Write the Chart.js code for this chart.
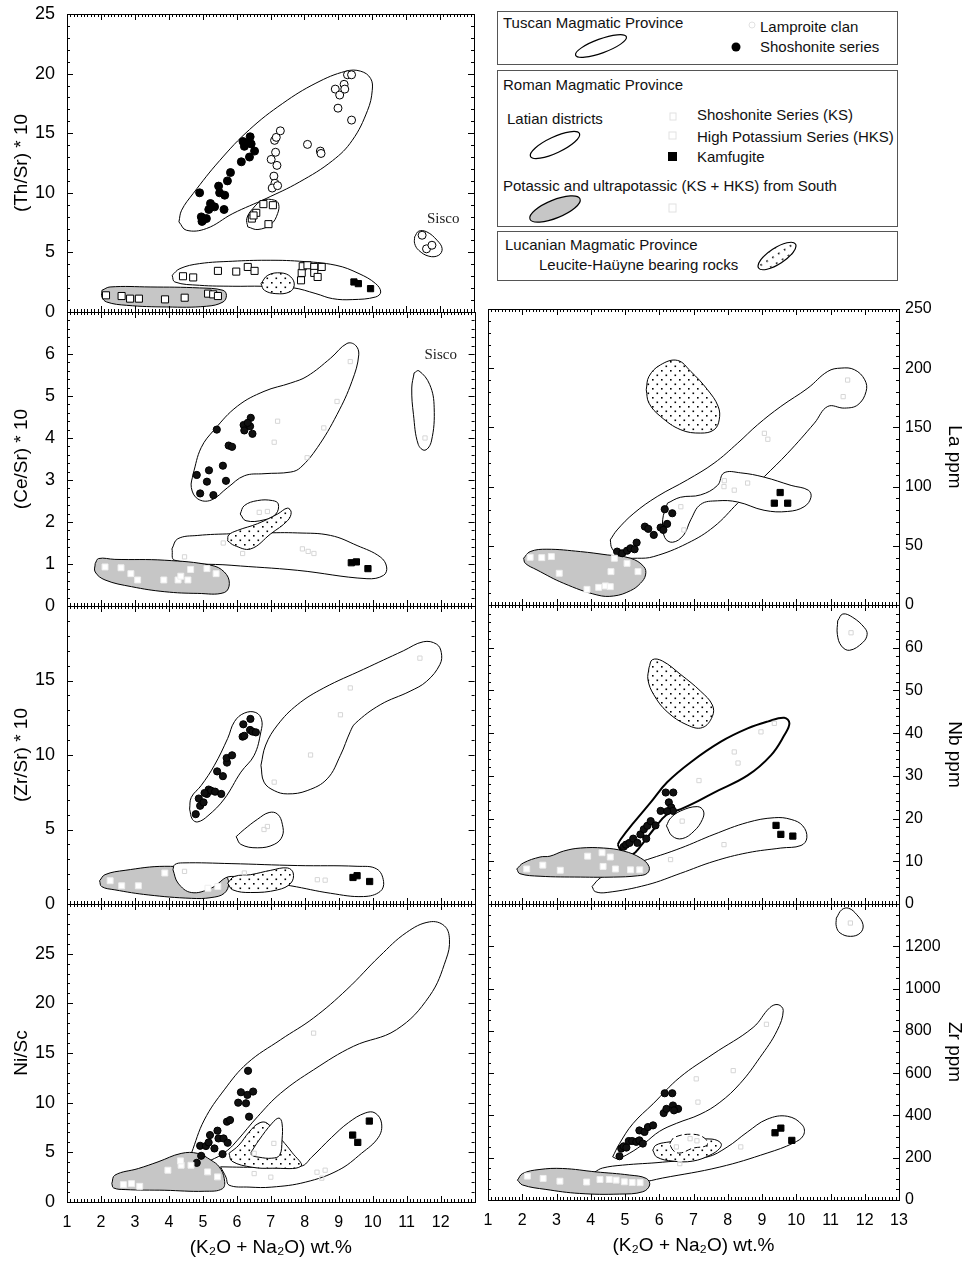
<!DOCTYPE html>
<html>
<head>
<meta charset="utf-8">
<script src="https://cdn.jsdelivr.net/npm/chart.js@4.4.1/dist/chart.umd.min.js"></script>
<style>
  html, body { margin: 0; padding: 0; background: #fff; }
  #stage { position: relative; width: 971px; height: 1264px; overflow: hidden; background: #fff;
           font-family: 'Liberation Sans', Arial, sans-serif; color: #111; }
  #stage canvas { position: absolute; }
  .box { position: absolute; left: 497px; width: 401px; border: 1px solid #555; box-sizing: border-box; }
  .lt { position: absolute; font-size: 15px; line-height: 18px; white-space: nowrap; }
  #legendArt { position: absolute; left: 0; top: 0; }
</style>
</head>
<body>
<div id="stage">
  <div class="box" style="top:11px;height:54px"></div>
  <div class="box" style="top:70px;height:157px"></div>
  <div class="box" style="top:231px;height:50px"></div>

  <div class="lt" style="left:503px;top:14px">Tuscan Magmatic Province</div>
  <div class="lt" style="left:760px;top:18px">Lamproite clan</div>
  <div class="lt" style="left:760px;top:38px">Shoshonite series</div>
  <div class="lt" style="left:503px;top:76px">Roman Magmatic Province</div>
  <div class="lt" style="left:507px;top:110px">Latian districts</div>
  <div class="lt" style="left:697px;top:106px">Shoshonite Series (KS)</div>
  <div class="lt" style="left:697px;top:128px">High Potassium Series (HKS)</div>
  <div class="lt" style="left:697px;top:148px">Kamfugite</div>
  <div class="lt" style="left:503px;top:177px">Potassic and ultrapotassic (KS + HKS) from South</div>
  <div class="lt" style="left:505px;top:236px">Lucanian Magmatic Province</div>
  <div class="lt" style="left:539px;top:256px">Leucite-Haüyne bearing rocks</div>

  <svg id="legendArt" width="971" height="300">
    <defs>
      <pattern id="dots" width="7" height="7" patternUnits="userSpaceOnUse">
        <rect x="2" y="2" width="1.6" height="1.6" fill="#000"/>
      </pattern>
    </defs>
    <ellipse cx="601" cy="46" rx="27" ry="7" transform="rotate(-20 601 46)" fill="none" stroke="#000" stroke-width="1.2"/>
    <circle cx="752" cy="25" r="3" fill="none" stroke="#e2e2e2"/>
    <circle cx="736" cy="47" r="4.5" fill="#000"/>
    <ellipse cx="555" cy="145" rx="27" ry="8" transform="rotate(-25 555 145)" fill="none" stroke="#000" stroke-width="1.2"/>
    <rect x="670" y="113" width="6" height="7" fill="none" stroke="#e2e2e2"/>
    <rect x="669" y="132" width="7" height="7" fill="none" stroke="#e2e2e2"/>
    <rect x="668" y="152" width="9" height="9" fill="#000"/>
    <ellipse cx="555" cy="209" rx="27" ry="9" transform="rotate(-22 555 209)" fill="#c6c6c6" stroke="#000" stroke-width="1.2"/>
    <rect x="669" y="204" width="7" height="8" fill="none" stroke="#e2e2e2"/>
    <ellipse cx="777" cy="256" rx="22" ry="8" transform="rotate(-33 777 256)" fill="url(#dots)" stroke="#000" stroke-width="1.2"/>
  </svg>
</div>

<script>
/* ---------- Data: (K2O + Na2O) wt.% vs ratios / ppm ---------- */

/* (Th/Sr)*10 */
const thShos = [[4.91,10.0],[4.96,7.98],[5.01,7.7],[5.11,7.84],[5.23,9.1],[5.18,8.6],[5.35,8.82],[5.47,10.56],[5.50,10.0],[5.65,9.8],[5.63,8.6],[5.73,11.0],[5.82,11.7],[6.14,12.6],[6.19,14.3],[6.28,14.15],[6.38,13.0],[6.40,14.7],[6.43,14.1],[6.53,13.5],[6.23,13.9],[4.98,7.6]];
const thLamp = [[7.02,12.8],[7.15,13.4],[7.12,14.4],[7.17,14.65],[7.29,15.2],[7.19,12.3],[7.10,11.4],[7.13,10.8],[7.05,10.4],[7.21,10.6],[8.09,14.06],[8.47,13.5],[8.49,13.3],[8.91,18.7],[9.04,18.2],[9.17,19.1],[9.19,18.7],[9.27,19.9],[9.39,19.9],[8.99,17.1],[9.39,16.1],[11.47,6.44],[11.60,5.3],[11.76,5.6]];
const thKS = [[6.45,7.84],[6.58,8.32],[6.79,9.05],[7.07,8.96],[6.94,7.37],[6.50,8.1]];
const thHKS = [[4.42,3.0],[4.72,2.9],[5.45,3.45],[5.99,3.39],[6.33,3.78],[6.53,3.45],[7.90,2.66],[7.92,3.28],[7.95,3.84],[8.09,3.92],[8.29,3.78],[8.29,3.28],[8.39,2.94],[8.51,3.78]];
const thKam = [[9.46,2.52],[9.59,2.38],[9.95,1.96]];
const thSouth = [[2.15,1.4],[2.61,1.34],[2.86,1.12],[3.12,1.12],[3.89,1.06],[4.47,1.2],[5.16,1.54],[5.31,1.48],[5.45,1.34]];
const thTuscanField = [[4.30,7.56],[4.52,6.86],[5.11,7.0],[5.89,8.26],[6.87,9.52],[7.85,10.9],[8.83,12.7],[9.41,14.4],[9.86,16.9],[10.0,18.6],[9.95,19.6],[9.66,20.2],[9.22,20.2],[8.34,19.2],[7.36,17.5],[6.38,15.3],[5.50,12.7],[4.72,9.94],[4.38,8.54]];
const thKSField = [[6.33,7.14],[6.63,6.92],[7.02,7.37],[7.21,8.26],[7.24,9.05],[7.12,9.38],[6.77,9.38],[6.48,8.68],[6.30,7.84]];
const thLatianField = [[4.10,3.08],[4.18,2.52],[4.91,2.24],[5.89,2.16],[6.77,2.16],[7.65,2.04],[8.34,1.54],[8.83,1.12],[9.41,1.04],[10.1,1.26],[10.25,1.68],[10.1,2.38],[9.61,3.22],[8.93,3.92],[7.85,4.26],[6.87,4.34],[5.89,4.26],[4.91,4.06],[4.33,3.64]];
const thSouthField = [[2.03,1.82],[2.27,2.1],[3.45,2.1],[4.91,2.02],[5.60,1.82],[5.70,1.4],[5.60,0.84],[5.11,0.48],[3.94,0.42],[2.76,0.56],[2.17,0.84],[2.03,1.26]];
const thLucanField = [[6.72,2.38],[6.82,1.82],[7.16,1.54],[7.56,1.68],[7.70,2.24],[7.60,2.94],[7.31,3.28],[6.92,3.08]];
const thSiscoField = [[11.25,6.3],[11.37,6.78],[11.61,6.72],[11.91,6.02],[12.06,5.32],[11.96,4.76],[11.67,4.68],[11.37,5.18],[11.25,5.74]];

/* (Ce/Sr)*10 */
const ceShos = [[4.82,3.12],[4.92,2.68],[5.12,2.96],[5.18,3.23],[5.31,2.64],[5.41,4.20],[5.59,3.34],[5.68,2.98],[5.76,3.82],[5.86,3.79],[6.20,4.31],[6.22,4.18],[6.41,4.48],[6.39,4.28],[6.46,4.10],[6.32,4.36]];
const ceKam = [[9.37,1.03],[9.52,1.05],[9.86,0.89]];
const ceSouth = [[2.12,0.93],[2.59,0.91],[2.88,0.77],[3.08,0.62],[3.85,0.62],[4.27,0.62],[4.35,0.71],[4.56,0.62],[4.64,0.87],[5.12,0.89],[5.39,0.77]];
const ceFaint = [[7.2,4.4],[7.1,3.9],[8.56,4.24],[8.95,4.87],[9.34,5.82],[8.07,3.53],[4.46,1.17],[6.17,1.25],[7.93,1.36],[8.27,1.25],[6.66,2.23],[6.9,2.25],[11.54,4.0],[5.6,1.5],[8.1,1.3]];
const ceTuscanField = [[4.71,3.14],[4.66,2.82],[4.85,2.55],[5.24,2.52],[5.73,2.82],[6.22,3.10],[6.80,3.15],[7.59,3.19],[7.88,3.30],[8.37,3.77],[8.95,4.56],[9.39,5.35],[9.59,5.98],[9.49,6.21],[9.24,6.25],[8.76,5.90],[8.07,5.47],[7.59,5.31],[6.80,5.11],[6.02,4.76],[5.34,4.20],[4.95,3.77]];
const ceSiscoField = [[11.22,5.55],[11.36,5.6],[11.68,5.27],[11.81,4.72],[11.73,3.93],[11.54,3.71],[11.34,3.85],[11.20,4.56],[11.15,5.19]];
const ceKSField = [[6.10,2.19],[6.27,2.03],[6.80,2.05],[7.15,2.19],[7.22,2.43],[7.05,2.51],[6.61,2.51],[6.22,2.39]];
const ceLucanField = [[5.73,1.55],[5.93,1.44],[6.41,1.36],[7.0,1.72],[7.49,2.03],[7.60,2.23],[7.49,2.33],[7.20,2.19],[6.61,1.96],[6.02,1.80],[5.76,1.69]];
const ceLatianField = [[4.09,1.36],[4.17,1.09],[5.83,0.97],[7.78,0.85],[9.83,0.65],[10.32,0.73],[10.41,0.93],[10.22,1.17],[9.54,1.44],[8.76,1.68],[7.78,1.74],[6.80,1.74],[5.83,1.72],[4.85,1.68],[4.26,1.60]];
const ceSouthField = [[1.83,1.01],[1.93,1.13],[2.41,1.11],[3.88,1.09],[5.24,0.97],[5.63,0.81],[5.78,0.54],[5.63,0.32],[4.85,0.30],[3.88,0.34],[2.90,0.46],[2.12,0.62],[1.83,0.81]];

/* (Zr/Sr)*10 */
const zsShos = [[4.79,6.03],[4.88,7.08],[4.92,6.59],[5.02,6.82],[5.12,7.39],[5.17,7.68],[5.24,7.61],[5.36,7.54],[5.54,7.39],[5.42,8.90],[5.59,8.58],[5.71,9.49],[5.70,9.80],[5.86,9.98],[6.17,11.23],[6.22,11.29],[6.19,12.06],[6.40,12.42],[6.39,11.68],[6.46,11.57],[6.56,11.52],[5.05,7.45]];
const zsKam = [[9.42,1.78],[9.54,1.90],[9.91,1.51]];
const zsSouth = [[2.27,1.56],[2.61,1.22],[3.10,1.22],[3.88,2.08],[5.15,1.06],[5.44,1.17]];
const zsFaint = [[9.34,14.5],[11.39,16.5],[9.05,12.7],[8.17,10.0],[7.10,8.18],[6.80,5.0],[6.9,5.2],[4.46,2.19],[6.22,2.08],[8.37,1.63],[8.6,1.6]];
const zsShosField = [[4.61,6.37],[4.69,5.69],[4.85,5.51],[5.15,5.92],[5.63,7.05],[6.12,8.85],[6.51,9.98],[6.71,11.57],[6.73,12.36],[6.56,12.85],[6.22,12.81],[5.93,12.24],[5.73,11.11],[5.34,9.31],[4.95,7.95],[4.66,7.16]];
const zsTuscanField = [[6.71,9.31],[6.80,8.18],[7.10,7.61],[7.49,7.39],[8.07,7.61],[8.66,8.40],[9.05,9.98],[9.34,11.57],[9.49,12.13],[10.22,13.37],[11.10,14.28],[11.59,14.95],[11.98,16.08],[12.02,16.87],[11.88,17.44],[11.49,17.60],[10.90,16.99],[9.73,15.75],[8.56,14.50],[7.78,13.37],[7.20,12.02],[6.85,10.67]];
const zsKSField = [[5.98,4.52],[6.12,4.0],[6.61,3.77],[7.10,4.0],[7.34,4.56],[7.34,5.35],[7.20,6.03],[6.95,6.14],[6.61,5.69],[6.22,5.01]];
const zsSouthField = [[1.96,1.56],[2.12,1.97],[2.71,2.26],[3.88,2.53],[5.05,2.30],[5.63,1.97],[5.76,1.40],[5.63,0.72],[5.24,0.43],[4.66,0.38],[3.39,0.61],[2.41,0.95],[2.02,1.17]];
const zsLatianField = [[4.12,2.30],[4.27,1.40],[4.66,0.77],[5.24,1.06],[5.83,1.85],[7.59,1.22],[8.76,0.72],[9.73,0.50],[10.22,0.84],[10.32,1.51],[10.12,2.35],[9.54,2.53],[7.78,2.58],[5.83,2.71],[4.41,2.76],[4.17,2.64]];
const zsLucanField = [[5.73,1.40],[5.88,0.95],[6.41,0.77],[7.20,0.95],[7.59,1.40],[7.66,2.08],[7.49,2.42],[7.00,2.26],[6.41,1.97],[5.93,1.85]];

/* Ni/Sc */
const niShos = [[4.82,3.94],[4.95,4.65],[4.92,5.66],[5.09,5.63],[5.17,6.0],[5.21,6.74],[5.34,5.39],[5.43,7.18],[5.46,6.40],[5.61,6.40],[5.73,5.96],[5.58,4.82],[5.71,8.09],[5.80,8.25],[6.04,10.0],[6.12,11.05],[6.27,9.94],[6.31,10.78],[6.33,13.21],[6.36,8.59],[6.48,11.12]];
const niKam = [[9.41,6.74],[9.56,6.0],[9.90,8.15]];
const niSouth = [[2.66,1.75],[2.90,1.85],[3.14,1.58],[3.97,3.2],[4.36,3.7],[4.65,3.7],[5.14,3.03],[5.43,2.53],[4.34,4.14]];
const niFaint = [[8.26,17.0],[6.51,4.9],[7.09,5.9],[8.36,3.0],[8.6,3.2],[6.51,2.86],[7.0,2.5],[8.5,2.4]];
const niTuscanField = [[4.66,4.89],[5.04,8.25],[5.63,11.29],[6.31,13.98],[7.29,16.34],[8.26,18.53],[9.24,21.40],[10.21,24.76],[10.99,27.12],[11.67,28.20],[12.11,27.80],[12.26,26.45],[12.16,24.43],[11.67,20.72],[10.70,17.35],[9.43,15.67],[8.26,13.31],[7.29,10.95],[6.61,8.59],[6.02,6.23],[5.73,5.22],[5.34,4.38],[4.85,3.87]];
const niSouthField = [[2.32,1.85],[2.41,2.70],[3.10,3.37],[3.68,4.04],[4.36,4.89],[4.85,4.89],[5.24,4.21],[5.48,3.54],[5.63,2.36],[5.58,1.35],[5.04,1.08],[3.88,1.18],[2.71,1.25],[2.37,1.42]];
const niLatianField = [[5.52,3.54],[6.45,3.5],[7.89,3.61],[8.2,4.5],[8.79,6.5],[9.29,8.0],[9.78,8.96],[10.07,8.96],[10.26,7.94],[10.17,6.52],[9.67,4.9],[8.99,3.2],[8.02,2.0],[7.03,1.5],[6.36,1.5],[5.77,1.7],[5.68,2.5]];
const niLucanField = [[5.77,4.9],[6.06,5.72],[6.36,7.03],[6.65,7.94],[6.89,7.94],[7.33,6.22],[7.62,5.01],[7.89,3.61],[7.04,3.4],[6.45,3.5],[5.86,4.1]];
const niKSField = [[6.42,5.01],[6.65,6.22],[7.04,7.94],[7.24,8.45],[7.33,7.94],[7.33,6.22],[7.26,4.71],[7.03,4.41],[6.65,4.51],[6.44,4.71]];

/* La ppm */
const laShos = [[4.77,45.1],[4.92,43.7],[5.06,45.9],[5.16,47.9],[5.28,47.1],[5.34,52.7],[5.58,66.2],[5.68,64.3],[5.84,59.2],[6.04,65.4],[6.23,68.5],[6.16,80.9],[6.38,77.5],[6.12,63.4]];
const laKam = [[9.53,95.0],[9.36,86.0],[9.75,86.0]];
const laSouth = [[2.23,40.3],[2.57,40.0],[2.85,40.9],[3.08,26.8],[3.89,13.2],[4.23,14.9],[4.43,16.1],[4.57,15.5],[4.59,28.2],[4.69,39.5],[5.06,35.2],[5.38,28.2]];
const laFaint = [[11.5,190],[11.37,176],[9.07,145],[9.17,140],[7.89,100],[8.19,97],[8.58,103],[6.63,83],[6.72,63.4],[7.9,105]];
const laLucanField = [[5.62,181.8],[5.70,193.1],[6.04,202.9],[6.53,206.6],[6.92,197.3],[7.41,181.8],[7.72,167.7],[7.75,156.4],[7.60,148.0],[7.21,145.2],[6.63,148.0],[6.04,159.2],[5.70,170.5]];
const laTuscanField = [[4.57,55.0],[4.77,63.4],[5.26,77.5],[5.94,91.6],[6.82,105.7],[7.60,119.8],[8.29,136.7],[8.87,152.2],[9.55,167.7],[10.34,183.2],[10.92,197.3],[11.31,200.1],[11.70,198.7],[12.00,190.2],[12.04,180.4],[11.80,169.1],[11.41,166.3],[10.92,167.7],[10.53,153.6],[9.75,128.2],[9.07,108.5],[8.29,86.0],[7.60,66.2],[6.82,52.1],[5.84,40.9],[5.36,39.5],[4.87,40.9],[4.62,47.9]];
const laLatianField = [[6.24,86],[6.62,91],[7.21,93],[7.70,101],[7.89,111.6],[8.38,111.6],[9.06,108],[9.85,101],[10.35,97],[10.43,91],[10.23,83],[9.75,79],[9.06,80],[8.29,87],[7.70,88],[7.21,85],[6.92,72],[6.71,59],[6.39,53],[6.16,57],[6.10,72]];
const laSouthField = [[2.04,39.5],[2.23,45.1],[2.72,47.1],[3.70,45.1],[4.48,42.3],[5.16,39.5],[5.55,32.4],[5.60,25.4],[5.45,18.3],[5.16,12.1],[4.67,7.6],[4.18,8.5],[3.21,18.3],[2.43,29.6],[2.09,35.2]];

/* Nb ppm */
const nbShos = [[4.96,13.4],[5.03,13.9],[5.13,14.3],[5.24,15.3],[5.36,14.3],[5.62,15.3],[5.45,16.3],[5.55,17.5],[5.65,18.3],[5.75,19.4],[5.89,18.4],[6.04,21.8],[6.19,26.1],[6.41,26.1],[6.28,23.8],[6.35,22.6],[6.40,21.8],[6.23,21.7]];
const nbKam = [[9.41,18.4],[9.55,16.3],[9.90,15.9]];
const nbSouth = [[2.13,8.2],[2.60,9.1],[3.11,7.9],[3.91,11.2],[4.33,12.0],[4.57,11.0],[4.36,8.8],[4.72,8.2],[5.16,8.0],[5.43,8.0]];
const nbFaint = [[9.36,42.3],[8.97,40.3],[8.19,35.6],[7.16,28.9],[6.67,19.4],[7.89,13.9],[6.33,10.4],[11.6,63.5],[8.3,33]];
const nbLucanField = [[5.70,55.3],[5.80,57.2],[6.09,56.9],[6.63,53.7],[7.21,49.8],[7.55,46.6],[7.55,43.9],[7.26,41.3],[6.82,41.9],[6.23,45.0],[5.84,49.0],[5.67,52.5]];
const nbShosField = [[4.79,13.9],[4.92,12.0],[5.21,11.6],[5.45,13.5],[5.84,17.5],[6.23,21.0],[6.63,22.2],[7.01,23.6],[7.60,26.1],[8.58,30.1],[9.26,34.8],[9.65,39.5],[9.80,42.3],[9.65,43.6],[9.16,42.7],[8.58,41.1],[7.80,38.0],[6.92,33.2],[6.23,28.5],[5.75,23.8],[5.26,19.1],[4.87,15.1]];
const nbKSField = [[6.21,18.3],[6.38,15.9],[6.67,15.3],[7.02,17.1],[7.26,19.8],[7.29,21.8],[7.11,22.8],[6.63,21.8],[6.33,20.1]];
const nbLatianField = [[4.04,4.1],[4.13,2.9],[4.48,2.7],[5.65,4.5],[6.63,7.2],[7.60,10.0],[8.58,12.0],[9.55,13.1],[10.14,13.7],[10.31,15.5],[10.19,18.3],[9.85,19.8],[9.36,20.2],[8.58,19.1],[7.60,16.3],[6.63,13.1],[5.65,10.4],[4.87,8.4],[4.28,6.1]];
const nbSouthField = [[1.84,8.2],[2.03,9.6],[2.52,11.0],[2.81,11.2],[3.21,12.4],[3.70,13.1],[4.38,13.1],[4.96,12.4],[5.45,10.8],[5.70,8.8],[5.65,7.2],[5.36,6.6],[4.67,6.3],[3.70,6.3],[2.52,6.5],[1.93,7.1]];
const nbSiscoField = [[11.21,66.3],[11.36,67.9],[11.65,67.1],[11.99,64.7],[12.07,63.1],[11.94,61.2],[11.56,59.4],[11.32,60.4],[11.20,63.1]];

/* Zr ppm */
const zrShos = [[4.84,207],[4.89,243],[4.96,254],[5.04,248],[5.11,279],[5.21,279],[5.33,275],[5.42,282],[5.52,267],[5.42,329],[5.57,322],[5.67,345],[5.82,353],[6.13,411],[6.21,431],[6.40,447],[6.55,431],[6.16,505],[6.38,505],[6.43,424]];
const zrKam = [[9.38,318],[9.55,340],[9.87,282]];
const zrSouth = [[2.15,113],[2.61,102],[3.10,89],[3.88,85],[4.27,97],[4.54,97],[4.74,94],[4.98,86],[5.21,83],[5.44,82]];
const zrFaint = [[9.13,831],[8.16,612],[7.08,573],[7.13,463],[8.38,251],[6.5,251],[11.58,1310],[6.6,172],[6.9,290],[7.1,280]];
const zrTuscanField = [[4.64,204],[4.78,196],[5.14,222],[5.57,269],[6.01,325],[6.51,363],[7.19,405],[7.77,462],[8.36,551],[8.94,674],[9.44,801],[9.62,896],[9.47,924],[9.23,910],[8.74,816],[7.57,690],[6.60,580],[5.82,455],[5.23,361],[4.84,267]];
const zrLatianField = [[4.11,132],[4.34,151],[4.93,165],[6.10,179],[7.39,203],[7.98,250],[8.57,321],[9.15,382],[9.74,396],[10.18,354],[10.21,306],[9.91,269],[9.15,222],[7.77,156],[6.10,104],[5.43,85],[4.6,95],[4.2,115]];
const zrLucanField = [[5.81,236],[5.93,203],[6.40,184],[6.98,184],[7.48,212],[7.77,245],[7.80,269],[7.54,288],[6.89,283],[6.22,273],[5.90,259]];
const zrKSField = [[6.31,269],[6.45,297],[6.98,311],[7.33,292],[7.39,259],[6.98,245],[6.60,222],[6.40,236]];
const zrSouthField = [[1.86,94],[2.01,125],[2.49,144],[3.18,149],[4.15,133],[5.13,118],[5.62,102],[5.72,71],[5.52,39],[4.84,28],[3.67,31],[2.69,50],[2.01,71]];
const zrSiscoField = [[11.17,1333],[11.33,1373],[11.53,1380],[11.77,1349],[11.95,1302],[11.87,1263],[11.58,1247],[11.28,1263],[11.17,1294]];

/* ---------- Styles ---------- */
const FONT = "'Liberation Sans', Arial, sans-serif";
const GRAY = '#c6c6c6';

const dotPattern = (() => {
  const c = document.createElement('canvas');
  c.width = 9; c.height = 9;
  const g = c.getContext('2d');
  g.fillStyle = '#fff'; g.fillRect(0, 0, 9, 9);
  g.fillStyle = '#000';
  g.fillRect(1, 1, 1.6, 1.6);
  g.fillRect(5.5, 5.5, 1.6, 1.6);
  return g.createPattern(c, 'repeat');
})();
const FILLS = { white: '#ffffff', gray: GRAY, dots: dotPattern };

const MARKS = {
  shosBig:  [{ pointStyle: 'circle', pointRadius: 4, pointBackgroundColor: '#000', pointBorderColor: '#000' }],
  lamp:     [{ pointStyle: 'circle', pointRadius: 4, pointBackgroundColor: '#fff', pointBorderColor: '#000' }],
  hks:      [{ pointStyle: 'rect', pointRadius: 5, pointBackgroundColor: '#fff', pointBorderColor: '#000' }],
  ks:       [{ pointStyle: 'rect', pointRadius: 5, pointBackgroundColor: '#fff', pointBorderColor: '#000' },
             { pointStyle: 'cross', pointRadius: 3.4, pointBorderColor: '#000' }],
  southX:   [{ pointStyle: 'rect', pointRadius: 5, pointBackgroundColor: '#fff', pointBorderColor: '#000' },
             { pointStyle: 'crossRot', pointRadius: 3.4, pointBorderColor: '#000' }],
  kam:      [{ pointStyle: 'rect', pointRadius: 4.4, pointBackgroundColor: '#000', pointBorderColor: '#000' }],
  shos:     [{ pointStyle: 'circle', pointRadius: 3.6, pointBackgroundColor: '#111', pointBorderColor: '#000' }],
  south:    [{ pointStyle: 'rect', pointRadius: 4.2, pointBackgroundColor: '#fff', pointBorderColor: '#eeeeee' }],
  faint:    [{ pointStyle: 'rect', pointRadius: 3, pointBackgroundColor: 'rgba(0,0,0,0)', pointBorderColor: '#d6d6d6' }],
};

const xy = arr => arr.map(([x, y]) => ({ x, y }));

function fieldSet(f, order) {
  const pts = f.data.concat([f.data[0]]);
  return {
    type: 'line',
    data: xy(pts),
    borderColor: '#000',
    borderWidth: f.width || 1,
    borderDash: f.dash || [],
    backgroundColor: f.fill ? FILLS[f.fill] : 'rgba(0,0,0,0)',
    fill: f.fill ? 'shape' : false,
    tension: 0.4,
    pointRadius: 0,
    order,
  };
}

function markSets(p) {
  return MARKS[p.mark].map(m => Object.assign({
    type: 'scatter', data: xy(p.data), pointBorderWidth: 1, order: 0,
  }, m));
}

/* frame with inward major + minor ticks on all four sides */
const frameTicks = {
  id: 'frameTicks',
  afterDatasetsDraw(chart, args, o) {
    const { ctx, chartArea: a, scales: { x, y } } = chart;
    ctx.save();
    ctx.strokeStyle = '#000';
    ctx.lineWidth = 1;
    ctx.strokeRect(Math.round(a.left) + 0.5, Math.round(a.top) + 0.5,
                   Math.round(a.right - a.left), Math.round(a.bottom - a.top));
    ctx.beginPath();
    const nx = Math.round((x.max - x.min) / o.xMinor);
    for (let i = 0; i <= nx; i++) {
      const v = x.min + i * o.xMinor;
      const len = Math.abs(v / o.xMajor - Math.round(v / o.xMajor)) < 1e-6 ? 6 : 3;
      const px = Math.round(x.getPixelForValue(v)) + 0.5;
      ctx.moveTo(px, a.top); ctx.lineTo(px, a.top + len);
      ctx.moveTo(px, a.bottom); ctx.lineTo(px, a.bottom - len);
    }
    const ny = Math.round((y.max - y.min) / o.yMinor);
    for (let i = 0; i <= ny; i++) {
      const v = y.min + i * o.yMinor;
      const len = Math.abs(v / o.yMajor - Math.round(v / o.yMajor)) < 1e-6 ? 6 : 3;
      const py = Math.round(y.getPixelForValue(v)) + 0.5;
      ctx.moveTo(a.left, py); ctx.lineTo(a.left + len, py);
      ctx.moveTo(a.right, py); ctx.lineTo(a.right - len, py);
    }
    ctx.stroke();
    ctx.restore();
  }
};

/* small text notes placed in data space */
const notes = {
  id: 'notes',
  afterDatasetsDraw(chart, args, o) {
    if (!o.items) return;
    const { ctx, scales: { x, y } } = chart;
    ctx.save();
    ctx.font = "15px 'Liberation Serif', 'Times New Roman', serif";
    ctx.fillStyle = '#222';
    ctx.textAlign = 'center';
    ctx.textBaseline = 'middle';
    o.items.forEach(n => ctx.fillText(n.text, x.getPixelForValue(n.x), y.getPixelForValue(n.y)));
    ctx.restore();
  }
};

const XTITLE = '(K\u2082O + Na\u2082O) wt.%';

const panels = [
  { side: 'left', top: 2, areaH: 298, bottom: false, ymax: 25, ystep: 5, yminor: 1, hideTop: false,
    title: '(Th/Sr) * 10',
    notes: [{ x: 12.09, y: 7.8, text: 'Sisco' }],
    fields: [
      { data: thTuscanField }, { data: thKSField }, { data: thLatianField, fill: 'white' },
      { data: thSouthField, fill: 'gray' }, { data: thLucanField, fill: 'dots' }, { data: thSiscoField },
    ],
    marks: [
      { data: thSouth, mark: 'southX' }, { data: thHKS, mark: 'hks' }, { data: thKS, mark: 'ks' },
      { data: thLamp, mark: 'lamp' }, { data: thKam, mark: 'kam' }, { data: thShos, mark: 'shosBig' },
    ] },
  { side: 'left', top: 300, areaH: 294, bottom: false, ymax: 7, ystep: 1, yminor: 0.2, hideTop: true,
    title: '(Ce/Sr) * 10',
    notes: [{ x: 12.0, y: 5.98, text: 'Sisco' }],
    fields: [
      { data: ceTuscanField }, { data: ceSiscoField }, { data: ceLatianField, fill: 'white' },
      { data: ceKSField, fill: 'white' }, { data: ceLucanField, fill: 'dots' }, { data: ceSouthField, fill: 'gray' },
    ],
    marks: [
      { data: ceFaint, mark: 'faint' }, { data: ceSouth, mark: 'south' },
      { data: ceKam, mark: 'kam' }, { data: ceShos, mark: 'shos' },
    ] },
  { side: 'left', top: 594, areaH: 298, bottom: false, ymax: 20, ystep: 5, yminor: 1, hideTop: true,
    title: '(Zr/Sr) * 10',
    fields: [
      { data: zsTuscanField }, { data: zsShosField }, { data: zsKSField },
      { data: zsSouthField, fill: 'gray' }, { data: zsLatianField, fill: 'white' }, { data: zsLucanField, fill: 'dots' },
    ],
    marks: [
      { data: zsFaint, mark: 'faint' }, { data: zsSouth, mark: 'south' },
      { data: zsKam, mark: 'kam' }, { data: zsShos, mark: 'shos' },
    ] },
  { side: 'left', top: 892, areaH: 298, bottom: true, ymax: 30, ystep: 5, yminor: 1, hideTop: true,
    title: 'Ni/Sc',
    fields: [
      { data: niTuscanField }, { data: niSouthField, fill: 'gray' }, { data: niLatianField, fill: 'white' },
      { data: niLucanField, fill: 'dots' }, { data: niKSField, fill: 'white' },
    ],
    marks: [
      { data: niFaint, mark: 'faint' }, { data: niSouth, mark: 'south' },
      { data: niKam, mark: 'kam' }, { data: niShos, mark: 'shos' },
    ] },
  { side: 'right', top: 297, areaH: 296, bottom: false, ymax: 250, ystep: 50, yminor: 10, hideTop: false,
    title: 'La ppm',
    fields: [
      { data: laTuscanField }, { data: laLatianField, fill: 'white' },
      { data: laSouthField, fill: 'gray' }, { data: laLucanField, fill: 'dots' },
    ],
    marks: [
      { data: laFaint, mark: 'faint' }, { data: laSouth, mark: 'south' },
      { data: laKam, mark: 'kam' }, { data: laShos, mark: 'shos' },
    ] },
  { side: 'right', top: 593, areaH: 299, bottom: false, ymax: 70, ystep: 10, yminor: 2, hideTop: true,
    title: 'Nb ppm',
    fields: [
      { data: nbLatianField, fill: 'white' }, { data: nbKSField, fill: 'white' }, { data: nbShosField, width: 2 },
      { data: nbSouthField, fill: 'gray' }, { data: nbLucanField, fill: 'dots' }, { data: nbSiscoField },
    ],
    marks: [
      { data: nbFaint, mark: 'faint' }, { data: nbSouth, mark: 'south' },
      { data: nbKam, mark: 'kam' }, { data: nbShos, mark: 'shos' },
    ] },
  { side: 'right', top: 892, areaH: 296, bottom: true, ymax: 1400, ystep: 200, yminor: 50, hideTop: true,
    title: 'Zr ppm', narrow: true,
    fields: [
      { data: zrTuscanField }, { data: zrLatianField, fill: 'white' }, { data: zrLucanField, fill: 'dots' },
      { data: zrKSField, fill: 'white', dash: [6, 3] }, { data: zrSouthField, fill: 'gray' }, { data: zrSiscoField },
    ],
    marks: [
      { data: zrFaint, mark: 'faint' }, { data: zrSouth, mark: 'south' },
      { data: zrKam, mark: 'kam' }, { data: zrShos, mark: 'shos' },
    ] },
];

const stage = document.getElementById('stage');

function buildPanel(p) {
  const left = p.side === 'left';
  const cw = left ? 480 : 491;
  const ch = 12 + p.areaH + (p.bottom ? 62 : 12);
  const cv = document.createElement('canvas');
  cv.width = cw; cv.height = ch;
  cv.style.left = (left ? 0 : 480) + 'px';
  cv.style.top = p.top + 'px';
  stage.appendChild(cv);

  const datasets = [];
  p.fields.forEach((f, i) => datasets.push(fieldSet(f, 100 - i)));
  p.marks.forEach(m => markSets(m).forEach(d => datasets.push(d)));

  const yFont = left ? 18 : 16;
  new Chart(cv, {
    type: 'scatter',
    data: { datasets },
    options: {
      responsive: false,
      animation: false,
      events: [],
      layout: { padding: { top: 12, bottom: p.bottom ? 0 : 12, left: left ? 0 : 8, right: left ? 4 : 0 } },
      plugins: {
        legend: { display: false },
        tooltip: { enabled: false },
        frameTicks: { xMinor: 0.1, xMajor: 1, yMinor: p.yminor, yMajor: p.ystep },
        notes: { items: p.notes },
      },
      scales: {
        x: {
          type: 'linear', min: 1, max: 13, display: p.bottom,
          grid: { display: false, drawTicks: false }, border: { display: false },
          ticks: {
            stepSize: 1, autoSkip: false, maxRotation: 0, padding: 11, color: '#000',
            font: { family: FONT, size: 16 },
            callback: v => (left && v === 13) ? '' : v,
          },
          title: { display: p.bottom, text: XTITLE, color: '#000', font: { family: FONT, size: 19 },
                   padding: { top: 0, bottom: 5 } },
          afterFit: s => {
            s.height = p.bottom ? 62 : 0;
            s.paddingLeft = 0; s.paddingRight = 0;
          },
        },
        y: {
          type: 'linear', position: left ? 'left' : 'right', min: 0, max: p.ymax,
          grid: { display: false, drawTicks: false }, border: { display: false },
          ticks: {
            stepSize: p.ystep, autoSkip: false, padding: left ? 12 : 6, color: '#000',
            font: { family: p.narrow ? "'Liberation Sans Narrow', " + FONT : FONT, size: yFont },
            callback: v => (p.hideTop && v === p.ymax) ? '' : v,
          },
          title: { display: true, text: p.title, color: '#000', font: { family: FONT, size: 19 },
                   padding: { top: left ? 10 : 5, bottom: 0 } },
          afterFit: s => {
            s.width = left ? 67 : 72;
            s.paddingTop = 0; s.paddingBottom = 0;
          },
        },
      },
    },
    plugins: [frameTicks, notes],
  });
}

panels.forEach(buildPanel);
</script>
</body>
</html>
